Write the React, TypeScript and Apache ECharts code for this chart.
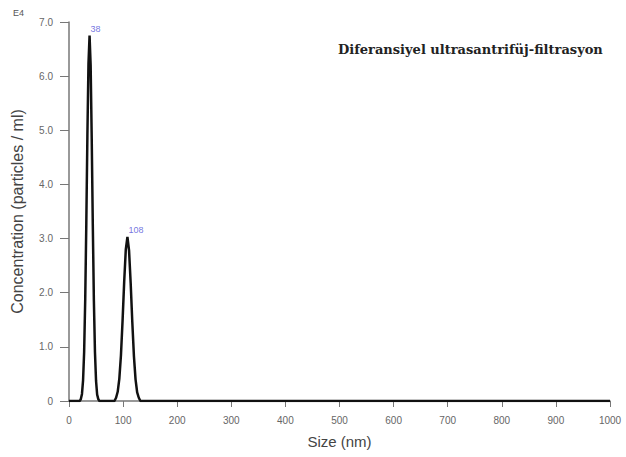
import React, { useEffect, useRef } from "react";
import * as echarts from "echarts";

const sizes = [0, 10, 20, 22, 24, 26, 28, 30, 32, 34, 36, 38, 40, 42, 44, 46, 48, 50, 52, 54, 56, 60, 70, 80, 84, 87, 90, 93, 96, 99, 102, 105, 108, 111, 114, 117, 120, 123, 126, 129, 132, 136, 200, 400, 600, 800, 1000];
const concentration = [0, 0, 0, 0.04, 0.13, 0.38, 0.91, 1.88, 3.28, 4.9, 6.23, 6.75, 6.2, 4.85, 3.25, 1.85, 0.9, 0.37, 0.12, 0.04, 0, 0, 0, 0, 0, 0.06, 0.17, 0.41, 0.84, 1.48, 2.2, 2.8, 3.03, 2.78, 2.18, 1.46, 0.83, 0.4, 0.16, 0.06, 0, 0, 0, 0, 0, 0, 0];
const peakSizes = [38, 108];
const peakHeights = [6.75, 3.03];
const peakLabels = ["38", "108"];

export default function App() {
  const ref = useRef<HTMLDivElement>(null);
  useEffect(() => {
    if (!ref.current) return;
    const chart = echarts.init(ref.current, null, { renderer: "svg" });
    chart.setOption({
      animation: false,
      backgroundColor: "#ffffff",
      grid: { left: 69, right: 16, top: 22, bottom: 56, outerBoundsMode: "none", containLabel: false },
      title: {
        text: "Diferansiyel ultrasantrifüj-filtrasyon",
        left: 333,
        top: 38,
        textStyle: { fontFamily: "DejaVu Serif", fontWeight: "bold", fontSize: 13, color: "#222" },
      },
      graphic: [
        { type: "text", left: 13, top: 8, style: { text: "E4", fontSize: 9, fill: "#555", fontFamily: "Liberation Sans" } },
      ],
      xAxis: {
        type: "value",
        min: 0,
        max: 1000,
        interval: 100,
        name: "Size (nm)",
        nameLocation: "middle",
        nameGap: 33,
        nameTextStyle: { fontSize: 15, color: "#444", fontFamily: "Liberation Sans" },
        axisLine: { lineStyle: { color: "#777", width: 1.5 } },
        axisTick: { show: true, length: 6, lineStyle: { color: "#777" } },
        axisLabel: { fontSize: 10, color: "#666", fontFamily: "Liberation Sans", margin: 14, formatter: (v: number) => String(v) },
        splitLine: { show: false },
      },
      yAxis: {
        type: "value",
        min: 0,
        max: 7,
        interval: 1,
        name: "Concentration (particles / ml)",
        nameLocation: "middle",
        nameGap: 44,
        nameTextStyle: { fontSize: 16, color: "#444", fontFamily: "Liberation Sans" },
        axisLine: { show: true, lineStyle: { color: "#777", width: 1.5 } },
        axisTick: { show: true, length: 9, lineStyle: { color: "#777" } },
        axisLabel: {
          fontSize: 10,
          color: "#666",
          fontFamily: "Liberation Sans",
          margin: 16,
          formatter: (v: number) => (v === 0 ? "0" : v.toFixed(1)),
        },
        splitLine: { show: false },
      },
      series: [
        {
          type: "line",
          data: sizes.map((s, i) => [s, concentration[i]]),
          showSymbol: false,
          symbol: "none",
          lineStyle: { color: "#111", width: 2.5 },
          z: 3,
        },
        {
          type: "scatter",
          symbolSize: 0,
          data: peakSizes.map((s, i) => ({ value: [s, peakHeights[i]], name: peakLabels[i] })),
          label: {
            show: true,
            formatter: (p: any) => p.name,
            position: [1, -11],
            fontSize: 9,
            color: "#5050d8",
            fontFamily: "Liberation Sans",
          },
          z: 4,
        },
      ],
    });
    return () => chart.dispose();
  }, []);
  return <div ref={ref} style={{ width: 626, height: 457, position: "absolute", left: 0, top: 0 }} />;
}
